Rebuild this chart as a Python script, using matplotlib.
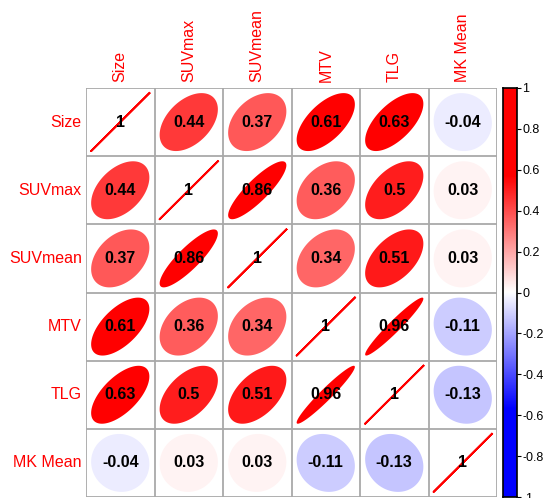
import numpy as np
import matplotlib.pyplot as plt
from matplotlib.colors import LinearSegmentedColormap, Normalize
from matplotlib.patches import Polygon

plt.rcParams['font.family'] = ['Liberation Sans', 'DejaVu Sans']

labels = ['Size', 'SUVmax', 'SUVmean', 'MTV', 'TLG', 'MK Mean']
corr = np.array([
    [1, 0.44, 0.37, 0.61, 0.63, -0.04],
    [0.44, 1, 0.86, 0.36, 0.5, 0.03],
    [0.37, 0.86, 1, 0.34, 0.51, 0.03],
    [0.61, 0.36, 0.34, 1, 0.96, -0.11],
    [0.63, 0.5, 0.51, 0.96, 1, -0.13],
    [-0.04, 0.03, 0.03, -0.11, -0.13, 1],
])
cbar_ticks = [-1, -0.8, -0.6, -0.4, -0.2, 0, 0.2, 0.4, 0.6, 0.8, 1]

# red/blue saturate at about +-0.57
cmap = LinearSegmentedColormap.from_list(
    'bwr2', [(0, 'blue'), (0.215, 'blue'), (0.5, 'white'), (0.785, 'red'), (1, 'red')])
norm = Normalize(-1, 1)

W, H = 545, 498
fig = plt.figure(figsize=(W / 100, H / 100), dpi=100)
ax = fig.add_axes([86 / W, 1 / H, (497 - 86) / W, (497 - 88) / H])
n = len(labels)


def fmt(v):
    if v == 1:
        return '1'
    return ('%.2f' % v).rstrip('0')


t = np.linspace(0, 2 * np.pi, 120)
for i in range(n):
    for j in range(n):
        r = corr[i, j]
        cx, cy = j + 0.5, n - 1 - i + 0.5
        a = np.arccos(np.clip(r, -1, 1))
        ex = 0.85 * np.cos(t + a / 2) / 2
        ey = 0.85 * np.cos(t - a / 2) / 2
        col = cmap(norm(r))
        if abs(r) >= 0.999:
            ax.plot(cx + ex, cy + ey, color=col, lw=1.4)
        else:
            ax.add_patch(Polygon(np.column_stack([cx + ex, cy + ey]),
                                 closed=True, facecolor=col, edgecolor='none'))
        ax.text(cx, cy, fmt(r), ha='center', va='center', fontsize=11.5,
                fontweight='bold', color='black')

for k in range(n + 1):
    ax.axhline(k, color='#a9a9a9', lw=1.3)
    ax.axvline(k, color='#a9a9a9', lw=1.3)

ax.set_xlim(0, n)
ax.set_ylim(0, n)
ax.set_xticks([])
ax.set_yticks([])
for s in ax.spines.values():
    s.set_visible(False)

for k, lab in enumerate(labels):
    ax.text(k + 0.5, n + 0.09, lab, rotation=90, ha='center', va='bottom',
            color='red', fontsize=11.5)
    ax.text(-0.06, n - 1 - k + 0.5, lab, ha='right', va='center',
            color='red', fontsize=11.5)

cax = fig.add_axes([503 / W, 1 / H, 14 / W, (497 - 88) / H])
grad = np.linspace(-1, 1, 256).reshape(-1, 1)
cax.imshow(grad, aspect='auto', cmap=cmap, norm=norm, origin='lower',
           extent=[0, 1, -1, 1])
cax.set_xticks([])
cax.yaxis.tick_right()
cax.set_yticks(cbar_ticks)
cax.set_yticklabels([fmt(v) if v != 0 else '0' for v in cbar_ticks])
cax.tick_params(axis='y', labelsize=9, length=3, pad=0.8)
for s in cax.spines.values():
    s.set_linewidth(1.2)

fig.savefig('out.png', dpi=100)
